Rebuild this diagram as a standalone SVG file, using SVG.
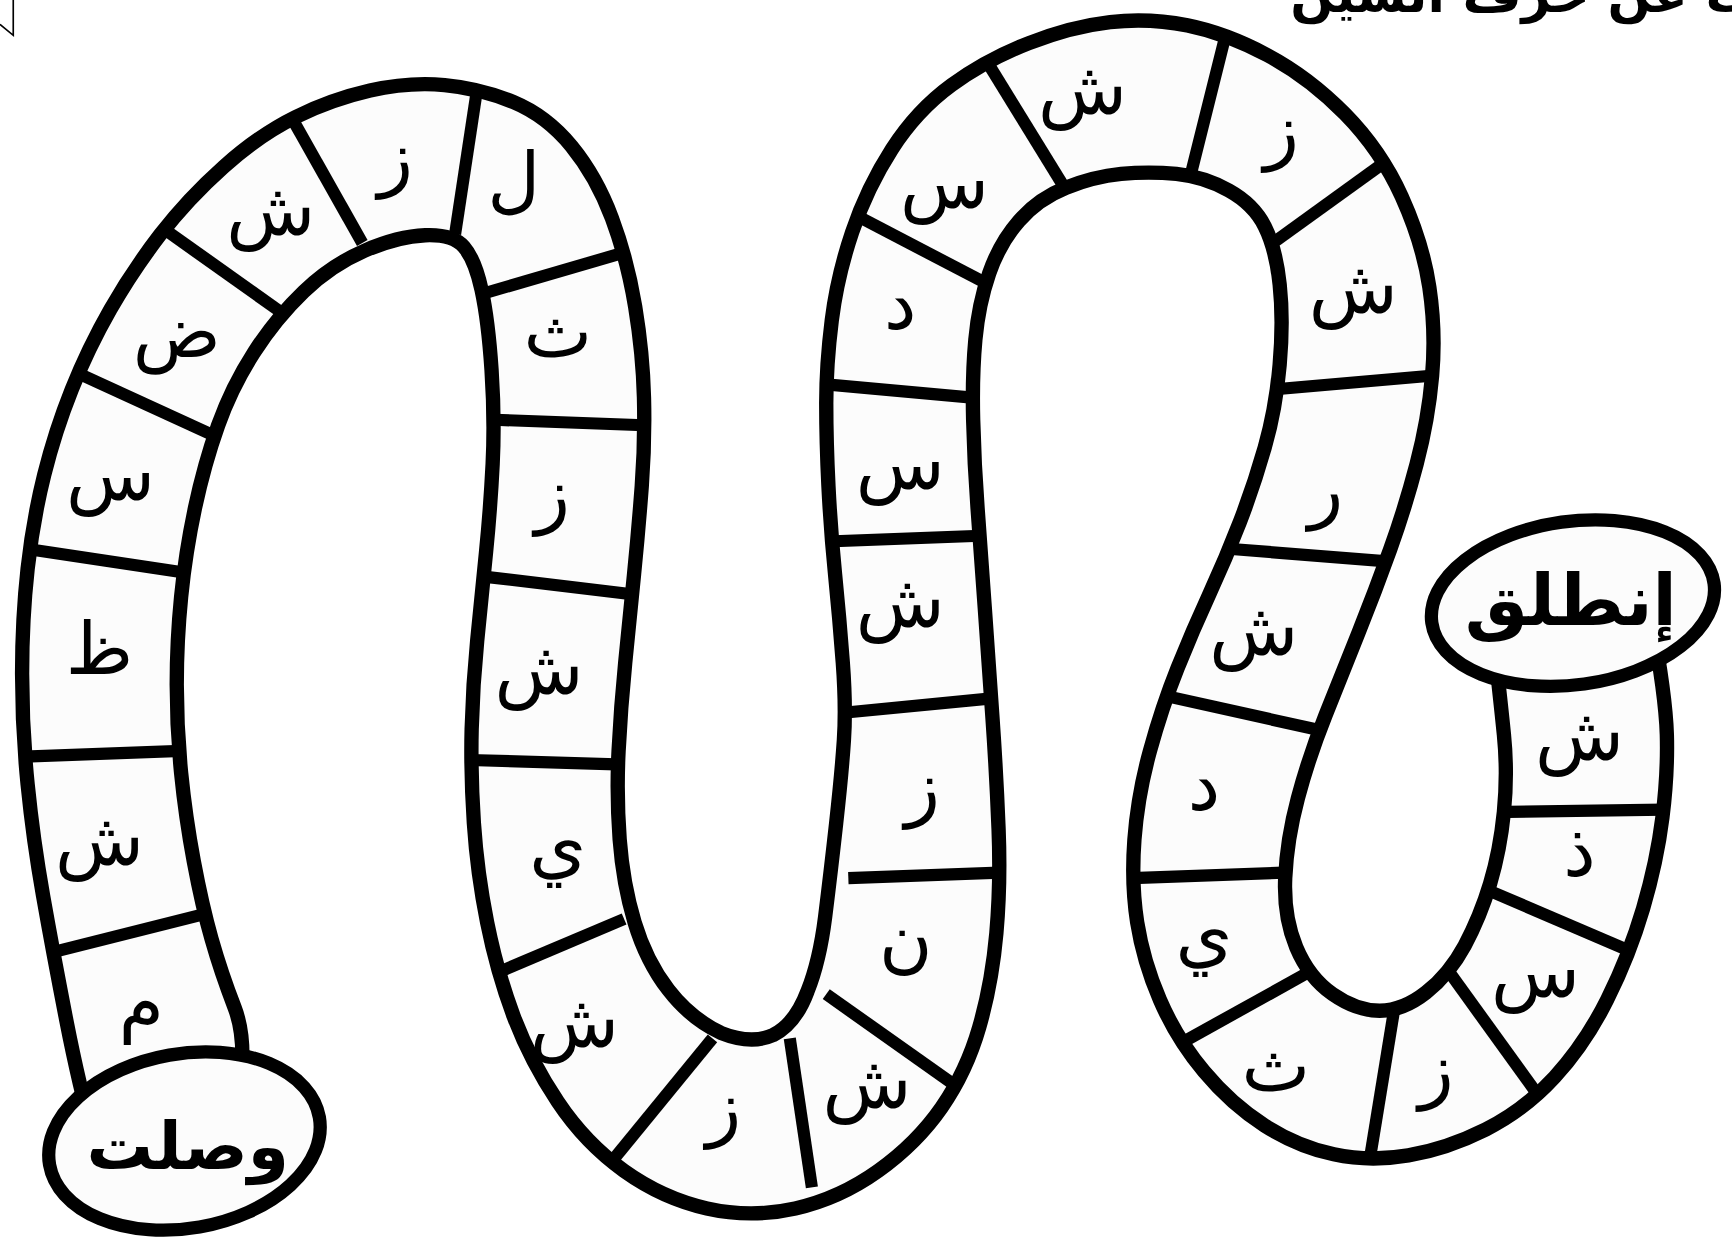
<svg xmlns="http://www.w3.org/2000/svg" width="1732" height="1255" viewBox="0 0 1732 1255">
<style>
.band{fill:#fcfcfc;stroke:#000;stroke-width:13;stroke-linejoin:round}
.div line{stroke:#000;stroke-width:11}
.oval{fill:#fcfcfc;stroke:#000;stroke-width:12}
.let{font-family:"DejaVu Sans",sans-serif;font-size:66px;text-anchor:middle;fill:#000}
.big{font-family:"DejaVu Sans",sans-serif;font-weight:bold;text-anchor:middle;fill:#000}
.title{font-family:"DejaVu Sans",sans-serif;font-size:46px;font-weight:bold;fill:#000}
</style>
<rect width="1732" height="1255" fill="#fff"/>
<g transform="scale(1.1046)">
<g id="corner-mark"><path d="M12,0 V32 L0,22" fill="none" stroke="#000" stroke-width="1.5"/></g>
<g id="title"><text class="title" x="1168" y="11">ابحث عن حرف الشين</text></g>
<g id="path-band">
<path class="band" d="M85,1030 Q72,985 60,923.5 Q48,862 39,811 Q30,760 25,710 Q20,660 20,610 Q20,560 25,515 Q30,470 40,430 Q50,390 65,352.5 Q80,315 100,280 Q120,245 145,212.5 Q170,180 202.5,151 Q235,122 267.5,106 Q300,90 335,82 Q370,74 402.5,77 Q435,80 465,92.5 Q495,105 517.5,132.5 Q540,160 554,197.5 Q568,235 575,277.5 Q582,320 583,360 Q584,400 581,440 Q578,480 574,520 Q570,560 566,600 Q562,640 560,680 Q558,720 561,760 Q564,800 574.5,835 Q585,870 605,896 Q625,922 652.5,935 Q680,946 700,937 Q720,927 731,897.5 Q742,870 747,830 Q752,790 757,745 Q762,700 764,670 Q766,640 763,600 Q760,560 756,520 Q752,480 750,440 Q748,400 748,365 Q748,330 753,290 Q758,250 771.5,210 Q785,170 807.5,135 Q830,100 861.5,77 Q893,54 931.5,39 Q970,24 1005,20 Q1040,16 1075,23 Q1110,30 1147.5,50 Q1185,70 1217.5,103 Q1250,136 1269,178 Q1288,220 1294,260 Q1300,300 1296.5,340 Q1293,380 1282.5,420 Q1272,460 1258.5,497.5 Q1245,535 1230,572.5 Q1215,610 1200,647.5 Q1185,685 1175,722.5 Q1165,760 1163.5,795 Q1162,830 1173.5,857.5 Q1185,885 1206.5,900 Q1228,915 1249,915 Q1270,915 1291,898.5 Q1312,882 1326,856 Q1340,830 1349,800 Q1358,770 1361.5,735 Q1365,700 1361.5,665 Q1358,630 1350,560 L1495,560 Q1508,630 1509,665 Q1510,700 1505,740 Q1500,780 1487.5,822.5 Q1475,865 1455,905 Q1435,945 1407.5,975 Q1380,1005 1345,1022.5 Q1310,1040 1275,1046 Q1240,1052 1207.5,1045 Q1175,1038 1145,1019 Q1115,1000 1090,970 Q1065,940 1050,905 Q1035,870 1029.5,835 Q1024,800 1027,760 Q1030,720 1041,680 Q1052,640 1066,605 Q1080,570 1095,537.5 Q1110,505 1122.5,472.5 Q1135,440 1145,405 Q1155,370 1158.5,330 Q1162,290 1158.5,257.5 Q1155,225 1145,205 Q1135,185 1112.5,172.5 Q1090,160 1065,157.5 Q1040,155 1015,157.5 Q990,160 965,170 Q940,180 922.5,200 Q905,220 895.5,247.5 Q886,275 883,307.5 Q880,340 881,380 Q882,420 885,460 Q888,500 891.5,550 Q895,600 898.5,650 Q902,700 904,750 Q906,800 902,845 Q898,890 886.5,930 Q875,970 852.5,1002.5 Q830,1035 795,1060 Q760,1085 720,1094 Q680,1103 640,1094 Q600,1085 565,1060 Q530,1035 505,997.5 Q480,960 465,920 Q450,880 441,835 Q432,790 429,745 Q426,700 427,660 Q428,620 432,580 Q436,540 440,500 Q444,460 446,420 Q448,380 445,335 Q442,290 436,262.5 Q430,235 420,223.5 Q410,212 385,213 Q360,214 330,227 Q300,240 275,264 Q250,288 230,319 Q210,350 197.5,385 Q185,420 176.5,460 Q168,500 164,540 Q160,580 160,620 Q160,660 164,700 Q168,740 175.5,780 Q183,820 191.5,850 Q200,880 212.5,912.5 Q225,945 215,1000 Z"/>
</g>
<g id="connectors" class="div">
<line x1="432" y1="80" x2="412" y2="212"/>
<line x1="262" y1="103" x2="328" y2="220"/>
<line x1="148" y1="207" x2="255" y2="283"/>
<line x1="75" y1="340" x2="195" y2="395"/>
<line x1="25" y1="497" x2="165" y2="518"/>
<line x1="22" y1="685" x2="158" y2="680"/>
<line x1="48" y1="862" x2="183" y2="828"/>
<line x1="440" y1="265" x2="567" y2="228"/>
<line x1="448" y1="380" x2="583" y2="385"/>
<line x1="438" y1="522" x2="572" y2="538"/>
<line x1="425" y1="688" x2="558" y2="692"/>
<line x1="447" y1="882" x2="565" y2="832"/>
<line x1="555" y1="1050" x2="645" y2="940"/>
<line x1="735" y1="1075" x2="715" y2="940"/>
<line x1="868" y1="985" x2="748" y2="900"/>
<line x1="768" y1="795" x2="905" y2="790"/>
<line x1="766" y1="645" x2="900" y2="632"/>
<line x1="755" y1="490" x2="888" y2="485"/>
<line x1="748" y1="348" x2="880" y2="360"/>
<line x1="775" y1="195" x2="890" y2="255"/>
<line x1="893" y1="55" x2="965" y2="172"/>
<line x1="1110" y1="30" x2="1078" y2="158"/>
<line x1="1252" y1="148" x2="1155" y2="218"/>
<line x1="1160" y1="352" x2="1298" y2="340"/>
<line x1="1115" y1="497" x2="1253" y2="508"/>
<line x1="1055" y1="630" x2="1190" y2="660"/>
<line x1="1025" y1="795" x2="1162" y2="790"/>
<line x1="1068" y1="945" x2="1185" y2="880"/>
<line x1="1240" y1="1050" x2="1262" y2="915"/>
<line x1="1395" y1="995" x2="1312" y2="880"/>
<line x1="1478" y1="862" x2="1352" y2="808"/>
<line x1="1507" y1="733" x2="1365" y2="735"/>
</g>
<g id="node-end"><ellipse class="oval" cx="167" cy="1033" rx="124" ry="79" transform="rotate(-10 167 1033)"/><text class="big" x="170" y="1058" font-size="60">وصلت</text></g>
<g id="node-start"><ellipse class="oval" cx="1424" cy="546" rx="129" ry="74" transform="rotate(-8 1424 546)"/><text class="big" x="1422" y="566" font-size="64">إنطلق</text></g>
<g id="letters" class="let">
<text x="465" y="185">ل</text>
<text x="358" y="165">ز</text>
<text x="245" y="213">ش</text>
<text x="160" y="323">ض</text>
<text x="100" y="453">س</text>
<text x="90" y="610">ظ</text>
<text x="90" y="783">ش</text>
<text x="128" y="930">م</text>
<text x="505" y="323">ث</text>
<text x="500" y="470">ز</text>
<text x="488" y="628">ش</text>
<text x="505" y="788">ي</text>
<text x="520" y="948">ش</text>
<text x="655" y="1025">ز</text>
<text x="785" y="1003">ش</text>
<text x="820" y="873">ن</text>
<text x="835" y="735">ز</text>
<text x="815" y="568">ش</text>
<text x="815" y="443">س</text>
<text x="815" y="298">د</text>
<text x="855" y="188">س</text>
<text x="980" y="103">ش</text>
<text x="1160" y="140">ز</text>
<text x="1225" y="283">ش</text>
<text x="1200" y="465">ر</text>
<text x="1135" y="593">ش</text>
<text x="1090" y="733">د</text>
<text x="1090" y="868">ي</text>
<text x="1155" y="988">ث</text>
<text x="1300" y="990">ز</text>
<text x="1390" y="903">س</text>
<text x="1430" y="793">ذ</text>
<text x="1430" y="688">ش</text>
</g>
</g>
</svg>
